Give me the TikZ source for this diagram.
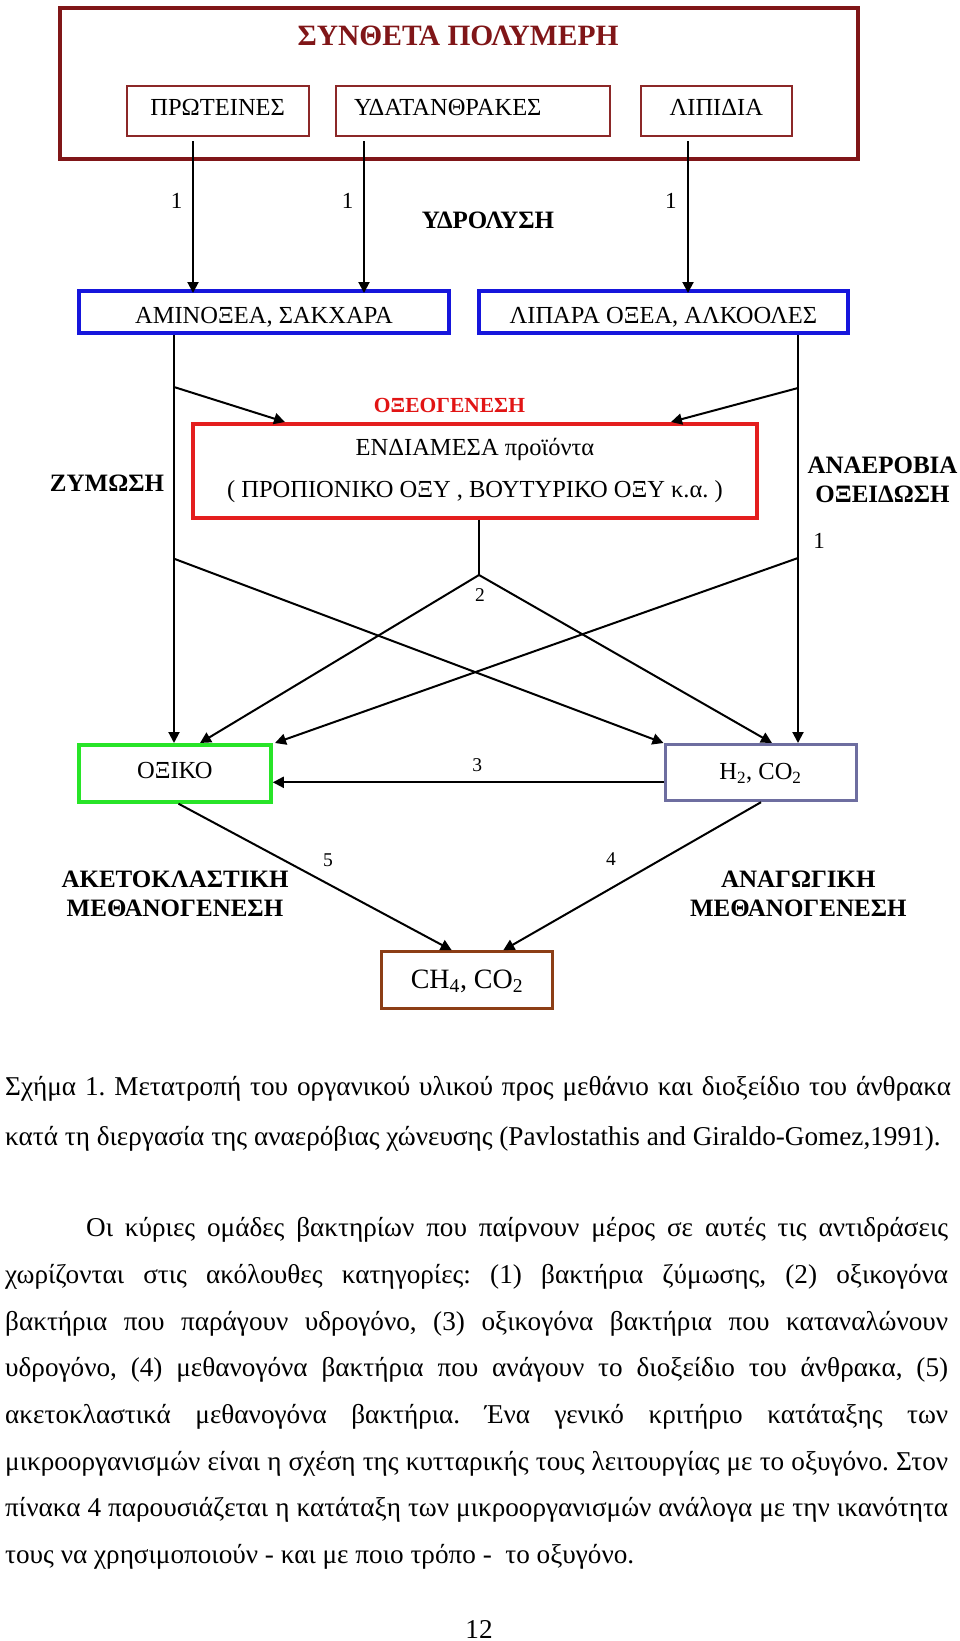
\documentclass[tikz,border=0pt]{standalone}
\usepackage{fontspec}
\setmainfont{Liberation Serif}
\usetikzlibrary{arrows.meta}
\frenchspacing
\definecolor{darkred}{RGB}{128,22,24}
\definecolor{innerred}{RGB}{140,40,40}
\definecolor{boxred}{RGB}{228,30,30}
\definecolor{textred}{RGB}{225,20,20}
\definecolor{boxblue}{RGB}{22,22,220}
\definecolor{boxgreen}{RGB}{40,228,40}
\definecolor{slate}{RGB}{110,110,160}
\definecolor{boxbrown}{RGB}{140,62,22}
\newcommand\boxfont{\fontsize{24.5}{28}\selectfont}
\newcommand\bodyfont{\fontsize{27.2}{46.66}\selectfont}
\begin{document}
\begin{tikzpicture}[x=1pt,y=-1pt,
  cbox/.style={draw, inner xsep=0pt, inner ysep=0pt, anchor=base, font=\boxfont},
  arw/.style={line width=2pt, -{Triangle[length=11pt,width=11pt]}},
  ln/.style={line width=2pt},
  blab/.style={font=\bfseries\fontsize{25}{29}\selectfont, align=center, inner sep=0pt},
  numl/.style={font=\fontsize{19.5}{20}\selectfont, anchor=base, inner sep=0pt},
  onel/.style={font=\fontsize{23}{24}\selectfont, anchor=base, inner sep=0pt},
  bodyl/.style={font=\bodyfont\frenchspacing, anchor=base west, inner sep=0pt}]
\fill[white] (0,0) rectangle (960,1641);
\useasboundingbox (0,0) rectangle (960,1641);

% top block
\node[draw=darkred, line width=4pt, minimum width=798pt, minimum height=151pt, inner sep=0pt] (outer) at (459,83.8) {};
\node[anchor=base, inner sep=0pt, font=\bfseries\fontsize{29.5}{32}\selectfont, text=darkred] (title) at (458,45) {ΣΥΝΘΕΤΑ ΠΟΛΥΜΕΡΗ};
\node[cbox, draw=innerred, line width=2pt, minimum width=182pt, text height=29.3pt, text depth=21pt] (P) at (217.7,115) {ΠΡΩΤΕΙΝΕΣ};
\node[cbox, draw=innerred, line width=2pt, inner xsep=18pt, minimum width=274pt, text height=29.3pt, text depth=21pt] (Y) at (473,115) {\makebox[238pt][l]{ΥΔΑΤΑΝΘΡΑΚΕΣ}};
\node[cbox, draw=innerred, line width=2pt, minimum width=151.5pt, text height=29.3pt, text depth=21pt] (L) at (716.3,115) {ΛΙΠΙΔΙΑ};

% hydrolysis products
\node[cbox, draw=boxblue, line width=4pt, minimum width=370pt, text height=32.3pt, text depth=9.7pt] (amino) at (264,323.3) {ΑΜΙΝΟΞΕΑ, ΣΑΚΧΑΡΑ};
\node[cbox, draw=boxblue, line width=4pt, minimum width=369pt, text height=32.3pt, text depth=9.7pt] (lipara) at (663.4,323.3) {ΛΙΠΑΡΑ ΟΞΕΑ, ΑΛΚΟΟΛΕΣ};

\draw[arw] ([xshift=-24.7pt,yshift=-4pt]P.south) -- ([xshift=-24.7pt,yshift=-4pt]P.south |- amino.north);
\draw[arw] ([xshift=-109pt,yshift=-4pt]Y.south) -- ([xshift=-109pt,yshift=-4pt]Y.south |- amino.north);
\draw[arw] ([xshift=-28.3pt,yshift=-4pt]L.south) -- ([xshift=-28.3pt,yshift=-4pt]L.south |- lipara.north);
\node[onel] (n1a) at (176.6,208) {1};
\node[onel] (n1b) at (347.7,208) {1};
\node[onel] (n1c) at (670.8,208) {1};
\node[anchor=base, inner sep=0pt, font=\bfseries\fontsize{25}{29}\selectfont] (hydro) at (488,228) {ΥΔΡΟΛΥΣΗ};

% intermediate products
\node[anchor=base, inner sep=0pt, font=\bfseries\fontsize{21.5}{24}\selectfont, text=textred] (oxeo) at (449.5,412.7) {ΟΞΕΟΓΕΝΕΣΗ};
\node[draw=boxred, line width=4pt, minimum width=564pt, minimum height=93.5pt, inner sep=0pt, align=center, font=\fontsize{24.5}{42}\selectfont] (red) at (475,470.75) {ΕΝΔΙΑΜΕΣΑ προϊόντα\\( ΠΡΟΠΙΟΝΙΚΟ ΟΞΥ , ΒΟΥΤΥΡΙΚΟ ΟΞΥ κ.α. )};
\node[anchor=base, inner sep=0pt, font=\bfseries\fontsize{25}{29}\selectfont] (zym) at (107,491.7) {ΖΥΜΩΣΗ};
\node[blab] (anaer) at (882.5,480) {ΑΝΑΕΡΟΒΙΑ\\ΟΞΕΙΔΩΣΗ};
\node[onel] (n1d) at (819,548.3) {1};

% lower boxes
\node[cbox, draw=boxgreen, line width=4pt, minimum width=192pt, text height=33pt, text depth=23.7pt] (oxiko) at (174.8,778) {ΟΞΙΚΟ};
\node[cbox, draw=slate, line width=3pt, minimum width=191pt, text height=34.8pt, text depth=21.4pt] (h2) at (760.5,779.3) {H\textsubscript{2}, CO\textsubscript{2}};
\node[cbox, draw=boxbrown, line width=3pt, minimum width=170.6pt, text height=36.6pt, text depth=20pt, font=\fontsize{28}{30}\selectfont] (ch4) at (467,988.3) {CH\textsubscript{4}, CO\textsubscript{2}};

% connectors
\draw[arw] ([xshift=-90pt]amino.south) -- ([xshift=-90pt]amino.south |- oxiko.north);
\draw[arw] ([xshift=134.6pt]lipara.south) -- ([xshift=134.6pt]lipara.south |- h2.north);
\draw[arw] ([xshift=-90pt,yshift=-52pt]amino.south) -- ([xshift=-190pt]red.north);
\draw[arw] ([xshift=134.6pt,yshift=-53pt]lipara.south) -- ([xshift=196pt]red.north);
\coordinate (split) at (479,575);
\draw[ln] ([xshift=4pt]red.south) -- (split);
\draw[arw] (split) -- ([xshift=25.2pt]oxiko.north);
\draw[arw] (split) -- ([xshift=11.5pt]h2.north);
\draw[arw] ([xshift=-90pt,yshift=-223.7pt]amino.south) -- ([xshift=-97pt]h2.north);
\draw[arw] ([xshift=134.6pt,yshift=-223pt]lipara.south) -- ([xshift=100.2pt]oxiko.north);
\draw[arw] ([yshift=-9.7pt]h2.west) -- ([yshift=-9.7pt]h2.west -| oxiko.east);
\draw[arw] ([xshift=3.7pt]oxiko.south) -- ([xshift=-15.3pt]ch4.north);
\draw[arw] ([xshift=0.5pt]h2.south) -- ([xshift=36.3pt]ch4.north);
\node[numl] (n2) at (480,601.7) {2};
\node[numl] (n3) at (477.3,771.7) {3};
\node[numl] (n4) at (611,865) {4};
\node[numl] (n5) at (328,866) {5};
\node[blab] (aceto) at (175,894.2) {ΑΚΕΤΟΚΛΑΣΤΙΚΗ\\ΜΕΘΑΝΟΓΕΝΕΣΗ};
\node[blab] (anag) at (798.3,894.3) {ΑΝΑΓΩΓΙΚΗ\\ΜΕΘΑΝΟΓΕΝΕΣΗ};

% caption
\node[bodyl] (cap1) at (5,1095) {\makebox[946pt][s]{Σχήμα 1. Μετατροπή του οργανικού υλικού προς μεθάνιο και διοξείδιο του άνθρακα}};
\node[bodyl] (cap2) at (5,1145.7) {κατά τη διεργασία της αναερόβιας χώνευσης (Pavlostathis and Giraldo-Gomez,1991).};

% paragraph
\node[bodyl] (p1) at (86,1236.7) {\makebox[862pt][s]{Οι κύριες ομάδες βακτηρίων που παίρνουν μέρος σε αυτές τις αντιδράσεις}};
\node[bodyl] (p2) at (5,1283.4) {\makebox[943pt][s]{χωρίζονται στις ακόλουθες κατηγορίες: (1) βακτήρια ζύμωσης, (2) οξικογόνα}};
\node[bodyl] (p3) at (5,1330) {\makebox[943pt][s]{βακτήρια που παράγουν υδρογόνο, (3) οξικογόνα βακτήρια που καταναλώνουν}};
\node[bodyl] (p4) at (5,1376.7) {\makebox[943pt][s]{υδρογόνο, (4) μεθανογόνα βακτήρια που ανάγουν το διοξείδιο του άνθρακα, (5)}};
\node[bodyl] (p5) at (5,1423.3) {\makebox[943pt][s]{ακετοκλαστικά μεθανογόνα βακτήρια. Ένα γενικό κριτήριο κατάταξης των}};
\node[bodyl] (p6) at (5,1470) {\makebox[943pt][s]{μικροοργανισμών είναι η σχέση της κυτταρικής τους λειτουργίας με το οξυγόνο. Στον}};
\node[bodyl] (p7) at (5,1516.7) {\makebox[943pt][s]{πίνακα 4 παρουσιάζεται η κατάταξη των μικροοργανισμών ανάλογα με την ικανότητα}};
\node[bodyl] (p8) at (5,1563.3) {τους να χρησιμοποιούν - και με ποιο τρόπο - \ το οξυγόνο.};
\node[anchor=base, inner sep=0pt, font=\bodyfont] (pageno) at (479,1638) {12};
\end{tikzpicture}
\end{document}
